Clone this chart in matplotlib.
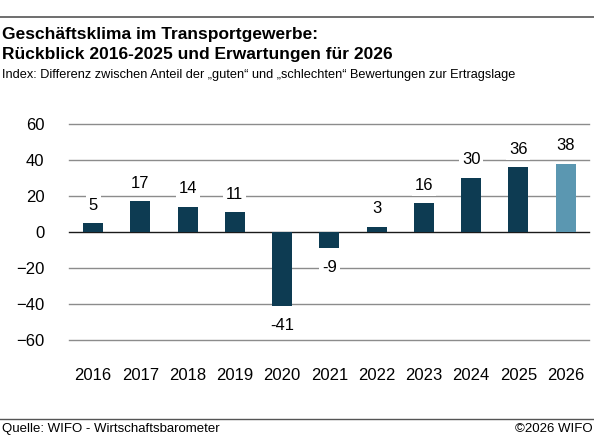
import matplotlib
matplotlib.use("Agg")
import matplotlib.pyplot as plt

years = ["2016","2017","2018","2019","2020","2021","2022","2023","2024","2025","2026"]
values = [5, 17, 14, 11, -41, -9, 3, 16, 30, 36, 38]
colors = ["#0d3b52"]*10 + ["#5b97b1"]
yticks = [60, 40, 20, 0, -20, -40, -60]

plt.rcParams['font.family'] = ['Liberation Sans', 'DejaVu Sans']
fig = plt.figure(figsize=(5.94, 4.38), dpi=100)
ax = fig.add_axes([0.117, 1-340/438, 0.875, 216/438])
x = range(len(years))
ax.bar(x, values, width=0.42, color=colors, zorder=3)
for i, v in enumerate(values):
    yy = v + 10 if v >= 0 else v - 11
    ax.text(i, yy, str(v), ha='center', va='center', fontsize=12, zorder=4,
            bbox=dict(facecolor='white', edgecolor='none', pad=2))
ax.set_ylim(-60, 60)
ax.set_xlim(-0.5, 10.5)
ax.set_yticks(yticks)
for t in yticks:
    ax.axhline(t, color='#1a1a1a' if t == 0 else '#8c8c8c', lw=1, zorder=1, clip_on=False)
ax.set_xticks(list(x))
ax.set_xticklabels(years)
ax.tick_params(length=0, labelsize=12)
ax.tick_params(axis='x', pad=20)
ax.tick_params(axis='y', pad=18)
for s in ax.spines.values():
    s.set_visible(False)

fig.add_artist(plt.Line2D([0, 1], [1-17/438]*2, color='#555555', lw=1.2))
fig.add_artist(plt.Line2D([0, 1], [1-419/438]*2, color='#555555', lw=1))
fig.text(0.003, 1-34/438, "Geschäftsklima im Transportgewerbe:", fontsize=12.5, fontweight='bold', va='center')
fig.text(0.003, 1-55/438, "Rückblick 2016-2025 und Erwartungen für 2026", fontsize=12.5, fontweight='bold', va='center')
fig.text(0.003, 1-75/438, "Index: Differenz zwischen Anteil der „guten“ und „schlechten“ Bewertungen zur Ertragslage", fontsize=9.2, va='center')
fig.text(0.003, 1-429/438, "Quelle: WIFO - Wirtschaftsbarometer", fontsize=9.5, va='center')
fig.text(0.997, 1-429/438, "©2026 WIFO", fontsize=9.5, va='center', ha='right')
fig.savefig("out.png", dpi=100)
